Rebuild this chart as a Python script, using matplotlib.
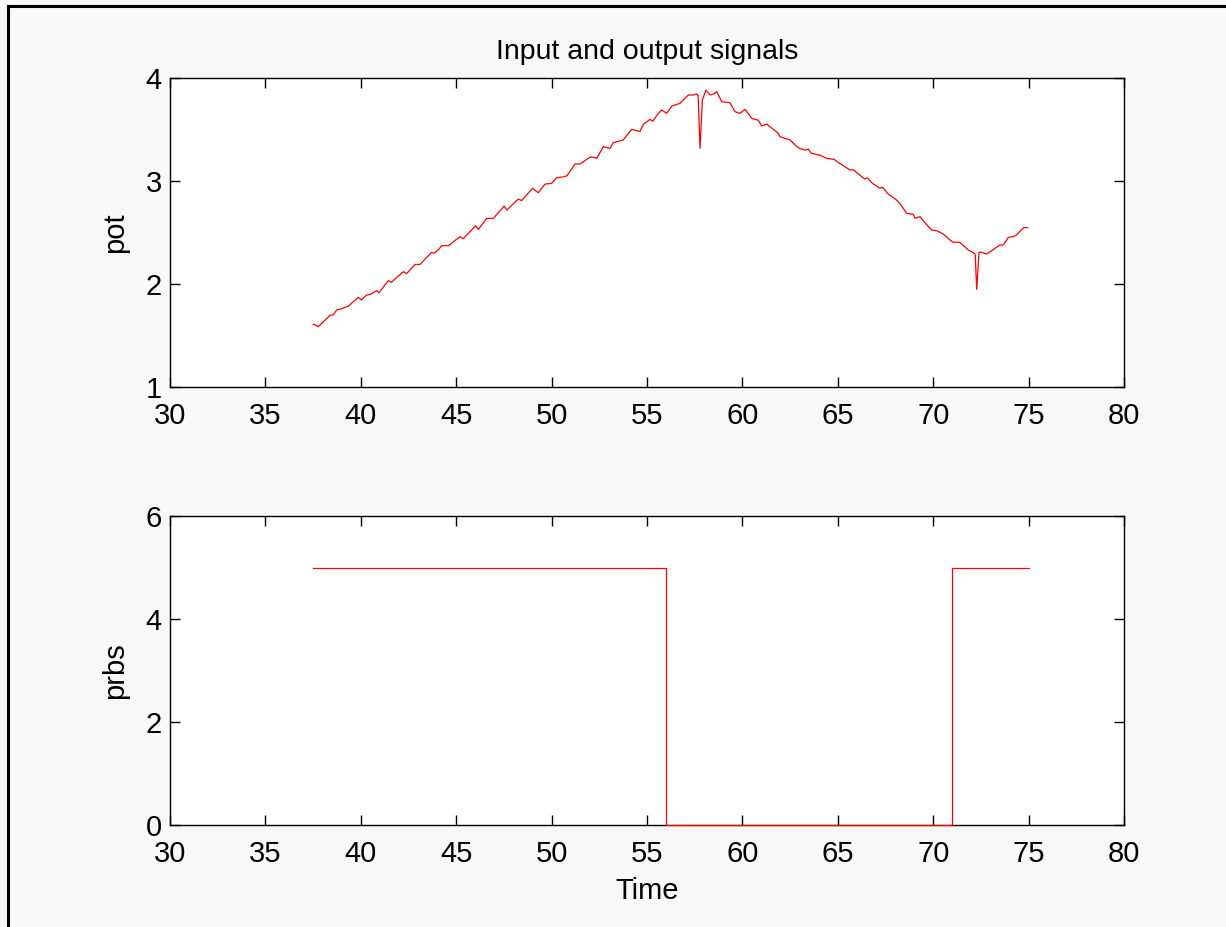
import matplotlib
matplotlib.use("Agg")
import matplotlib.pyplot as plt
from matplotlib.lines import Line2D

# ---- data ----
pot_time = [37.51, 37.65, 37.77, 38.39, 38.55, 38.74, 39.0, 39.35, 39.87, 40.03,
            40.31, 40.5, 40.83, 40.95, 41.44, 41.6, 42.23, 42.4, 42.84, 43.1,
            43.71, 43.85, 44.05, 44.24, 44.6, 45.2, 45.37, 45.72, 46.02, 46.16,
            46.6, 46.95, 47.51, 47.65, 48.26, 48.43, 49.0, 49.3, 49.65, 50.0,
            50.27, 50.62, 50.8, 51.23, 51.5, 51.93, 52.1, 52.37, 52.71, 53.06,
            53.23, 53.75, 54.2, 54.63, 54.81, 55.16, 55.3, 55.6, 55.77, 56.03,
            56.3, 56.73, 57.17, 57.43, 57.6, 57.68, 57.78, 57.9, 58.09, 58.3,
            58.5, 58.65, 58.92, 59.35, 59.61, 59.87, 60.14, 60.49, 60.83, 61.01,
            61.27, 61.88, 61.97, 62.5, 62.76, 62.98, 63.3, 63.45, 63.6, 64.07,
            64.2, 64.4, 64.8, 64.95, 65.2, 65.64, 65.8, 66.0, 66.4, 66.55,
            66.8, 67.2, 67.35, 67.6, 67.9, 68.05, 68.26,
            68.61, 68.96, 69.05, 69.31, 69.57, 69.92, 70.18, 70.53, 70.88, 71.06,
            71.4, 71.84, 72.1, 72.2, 72.28, 72.4, 72.5, 72.8, 73.24, 73.5,
            73.68, 73.94, 74.2, 74.37, 74.73, 74.95]
pot_value = [1.609, 1.60, 1.585, 1.696, 1.70, 1.748, 1.76, 1.786, 1.871, 1.845,
             1.893, 1.90, 1.935, 1.915, 2.032, 2.016, 2.12, 2.10, 2.19, 2.19,
             2.307, 2.30, 2.33, 2.372, 2.372, 2.46, 2.44, 2.508, 2.566, 2.53,
             2.637, 2.637, 2.757, 2.718, 2.825, 2.81, 2.929, 2.886, 2.97, 2.977,
             3.032, 3.04, 3.05, 3.165, 3.165, 3.223, 3.235, 3.22, 3.333, 3.317,
             3.372, 3.398, 3.502, 3.479, 3.55, 3.599, 3.58, 3.657, 3.69, 3.657,
             3.728, 3.754, 3.835, 3.835, 3.845, 3.83, 3.317, 3.786, 3.883, 3.835,
             3.845, 3.867, 3.77, 3.76, 3.673, 3.657, 3.696, 3.608, 3.59, 3.534,
             3.553, 3.463, 3.43, 3.398, 3.35, 3.317, 3.30, 3.31, 3.27, 3.25,
             3.24, 3.22, 3.21, 3.19, 3.16, 3.107, 3.11, 3.08, 3.02, 3.03,
             2.98, 2.93, 2.94, 2.88, 2.84, 2.82, 2.78,
             2.686, 2.676, 2.638, 2.654, 2.595, 2.524, 2.517, 2.485, 2.427, 2.405,
             2.405, 2.33, 2.304, 2.29, 1.948, 2.304, 2.31, 2.291, 2.346, 2.379,
             2.379, 2.453, 2.46, 2.476, 2.547, 2.547]

prbs_time = [37.5, 56.0, 71.0, 75.0]
prbs_value = [5, 0, 5, 5]

x_ticks = [30, 35, 40, 45, 50, 55, 60, 65, 70, 75, 80]
pot_ticks = [1, 2, 3, 4]
prbs_ticks = [0, 2, 4, 6]

title = "Input and output signals"

# ---- figure ----
plt.rcParams['font.family'] = ['Liberation Sans', 'DejaVu Sans']
fig = plt.figure(figsize=(12.26, 9.27), dpi=100)
fig.patch.set_facecolor('#f8f8f8')

# figure border (left and top)
fig.add_artist(Line2D([8/1226, 8/1226], [0, 1 - 6/927], color='black', lw=2.2,
                      transform=fig.transFigure))
fig.add_artist(Line2D([8/1226, 1], [1 - 6/927, 1 - 6/927], color='black', lw=2.2,
                      transform=fig.transFigure))

left = 170 / 1226
width = (1124 - 170) / 1226
ax1 = fig.add_axes([left, 1 - 387/927, width, (387 - 78)/927])
ax2 = fig.add_axes([left, 1 - 825/927, width, (825 - 516)/927])

for ax in (ax1, ax2):
    ax.set_facecolor('white')
    ax.set_xlim(30, 80)
    ax.set_xticks(x_ticks)
    ax.tick_params(direction='in', length=7, width=1, top=True, right=True,
                   labelsize=21, colors='black', pad=6)
    ax.tick_params(axis='x', pad=11)
    for s in ax.spines.values():
        s.set_linewidth(1.0)

ax1.plot(pot_time, pot_value, color='red', lw=0.9)
ax1.set_ylim(1, 4)
ax1.set_yticks(pot_ticks)
ax1.set_ylabel('pot', fontsize=21, labelpad=12)
ax1.set_title(title, fontsize=20.5, pad=14)

ax2.plot(prbs_time, prbs_value, color='red', lw=0.9, drawstyle='steps-post',
         clip_on=False, zorder=5)
ax2.set_ylim(0, 6)
ax2.set_yticks(prbs_ticks)
ax2.set_ylabel('prbs', fontsize=21, labelpad=12)
ax2.set_xlabel('Time', fontsize=21, labelpad=6)

fig.savefig('out.png', dpi=100, facecolor=fig.get_facecolor())
